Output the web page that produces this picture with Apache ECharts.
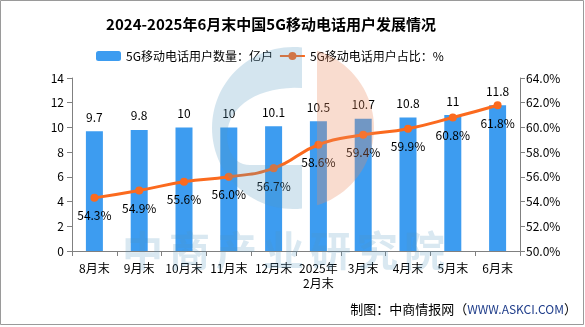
<!DOCTYPE html>
<html>
<head>
<meta charset="utf-8">
<script src="https://cdn.jsdelivr.net/npm/echarts@6/dist/echarts.min.js"></script>
<style>
  html, body { margin: 0; padding: 0; background: #fff; }
  #chart { width: 585px; height: 327px; }
</style>
</head>
<body>
<div id="chart"></div>
<script>
// Monthly 5G mobile subscribers (100 million) and share of all mobile subscribers (%)
const categories = ['8月末', '9月末', '10月末', '11月末', '12月末', '2025年\n2月末', '3月末', '4月末', '5月末', '6月末'];
const users = [9.7, 9.8, 10, 10, 10.1, 10.5, 10.7, 10.8, 11, 11.8];
const share = [54.3, 54.9, 55.6, 56.0, 56.7, 58.6, 59.4, 59.9, 60.8, 61.8];
const seriesNames = ['5G移动电话用户数量：亿户', '5G移动电话用户占比：%'];

const FONT = '"Noto Sans CJK SC", "Noto Sans", sans-serif';
const BAR = '#3d9cf0';
const LINE = '#fb6a1e';
const MARK_BLUE = 'rgba(83,151,191,0.25)';
const MARK_ORANGE = 'rgba(235,138,95,0.3)';

// ---- faint brand logo outline (decoration) ----
const LOGO = { cx: 293, cy: 128, r: 81 };
function arcPoints(fromDeg, toDeg, steps) {
  const pts = [];
  for (let i = 0; i <= steps; i++) {
    const a = (fromDeg + (toDeg - fromDeg) * i / steps) * Math.PI / 180;
    pts.push([LOGO.cx + LOGO.r * Math.cos(a), LOGO.cy + LOGO.r * Math.sin(a)]);
  }
  return pts;
}
function cubic(p0, p1, p2, p3, steps) {
  const pts = [];
  for (let i = 0; i <= steps; i++) {
    const t = i / steps, u = 1 - t;
    pts.push([
      u * u * u * p0[0] + 3 * u * u * t * p1[0] + 3 * u * t * t * p2[0] + t * t * t * p3[0],
      u * u * u * p0[1] + 3 * u * u * t * p1[1] + 3 * u * t * t * p2[1] + t * t * t * p3[1]
    ]);
  }
  return pts;
}
// blue "G": outer arc on the left of x=302, with the inner counter opened along that edge
const blueAngle = Math.acos((302 - LOGO.cx) / LOGO.r) * 180 / Math.PI;
const bluePoints = [
  ...arcPoints(-blueAngle, -360 + blueAngle, 60),       // top -> left -> bottom
  [302, 165],
  [250, 165],
  ...cubic([250, 165], [235, 165], [227, 152], [227, 135], 12),
  ...cubic([227, 135], [228, 105], [260, 86], [302, 88], 16)
];
// orange segment on the right of x=317
const orangeAngle = Math.acos((317 - LOGO.cx) / LOGO.r) * 180 / Math.PI;
const orangePoints = arcPoints(-orangeAngle, orangeAngle, 40);

// background brand text, laid out one glyph at a time for wide spacing
const markText = '中商产业研究院'.split('').map((ch, i) => ({
  type: 'text', z: 50, silent: true,
  left: 122 + i * 47, top: 230,
  style: { text: ch, font: 'bold 41px ' + FONT, fill: 'rgba(83,151,191,0.22)' }
}));

const chart = echarts.init(document.getElementById('chart'), null, { renderer: 'canvas' });

chart.setOption({
  animation: false,
  backgroundColor: '#fff',
  textStyle: { fontFamily: FONT },
  title: {
    text: '2024-2025年6月末中国5G移动电话用户发展情况',
    left: 266, top: 12, textAlign: 'center',
    textStyle: { fontSize: 15, fontWeight: 'bold', color: '#000', fontFamily: FONT }
  },
  legend: {
    left: 91, top: 45,
    itemWidth: 25, itemHeight: 10, itemGap: 6,
    textStyle: { fontSize: 12, color: '#000', fontFamily: FONT },
    data: seriesNames
  },
  grid: { left: 72, right: 65, top: 78, bottom: 76 },
  xAxis: {
    type: 'category',
    data: categories,
    axisLine: { lineStyle: { color: '#808080' } },
    axisTick: { show: true, length: 5, lineStyle: { color: '#808080' } },
    axisLabel: { color: '#000', fontSize: 12, margin: 10, lineHeight: 15, interval: 0 }
  },
  yAxis: [
    {
      type: 'value', min: 0, max: 14, interval: 2,
      axisLine: { show: true, lineStyle: { color: '#808080' } },
      axisTick: { show: true, length: 5, lineStyle: { color: '#808080' } },
      splitLine: { show: false },
      axisLabel: { color: '#000', fontSize: 12, margin: 8 }
    },
    {
      type: 'value', min: 50, max: 64, interval: 2,
      axisLine: { show: true, lineStyle: { color: '#808080' } },
      axisTick: { show: true, length: 5, lineStyle: { color: '#808080' } },
      splitLine: { show: false },
      axisLabel: { color: '#000', fontSize: 12, margin: 6, formatter: v => v.toFixed(1) + '%' }
    }
  ],
  series: [
    {
      name: seriesNames[0], type: 'bar', yAxisIndex: 0,
      data: users, barWidth: 17,
      itemStyle: { color: BAR },
      label: { show: true, position: 'top', distance: 8, color: '#000', fontSize: 12 }
    },
    {
      name: seriesNames[1], type: 'line', yAxisIndex: 1,
      data: share, smooth: true,
      symbol: 'circle', symbolSize: 8,
      lineStyle: { color: LINE, width: 3 },
      itemStyle: { color: LINE },
      label: {
        show: true, position: 'bottom', distance: 8, color: '#000', fontSize: 12,
        formatter: p => p.value.toFixed(1) + '%'
      }
    }
  ],
  graphic: [
    // outer frame
    {
      type: 'rect', z: 100, silent: true,
      shape: { x: 0.5, y: 0.5, width: 583, height: 324 },
      style: { fill: null, stroke: '#9a9a9a', lineWidth: 1 }
    },
    { type: 'polygon', z: 50, silent: true, shape: { points: bluePoints }, style: { fill: MARK_BLUE } },
    { type: 'polygon', z: 50, silent: true, shape: { points: orangePoints }, style: { fill: MARK_ORANGE } },
    ...markText,
    // source line
    {
      type: 'text', z: 60,
      right: 8, top: 303,
      style: {
        text: '{a|制图：中商情报网（}{b|WWW.ASKCI.COM}{a|）}',
        rich: {
          a: { fontSize: 13, fill: '#000', fontFamily: FONT },
          b: { fontSize: 12, fill: '#1f3d8a', fontFamily: FONT }
        }
      }
    }
  ]
});
</script>
</body>
</html>
